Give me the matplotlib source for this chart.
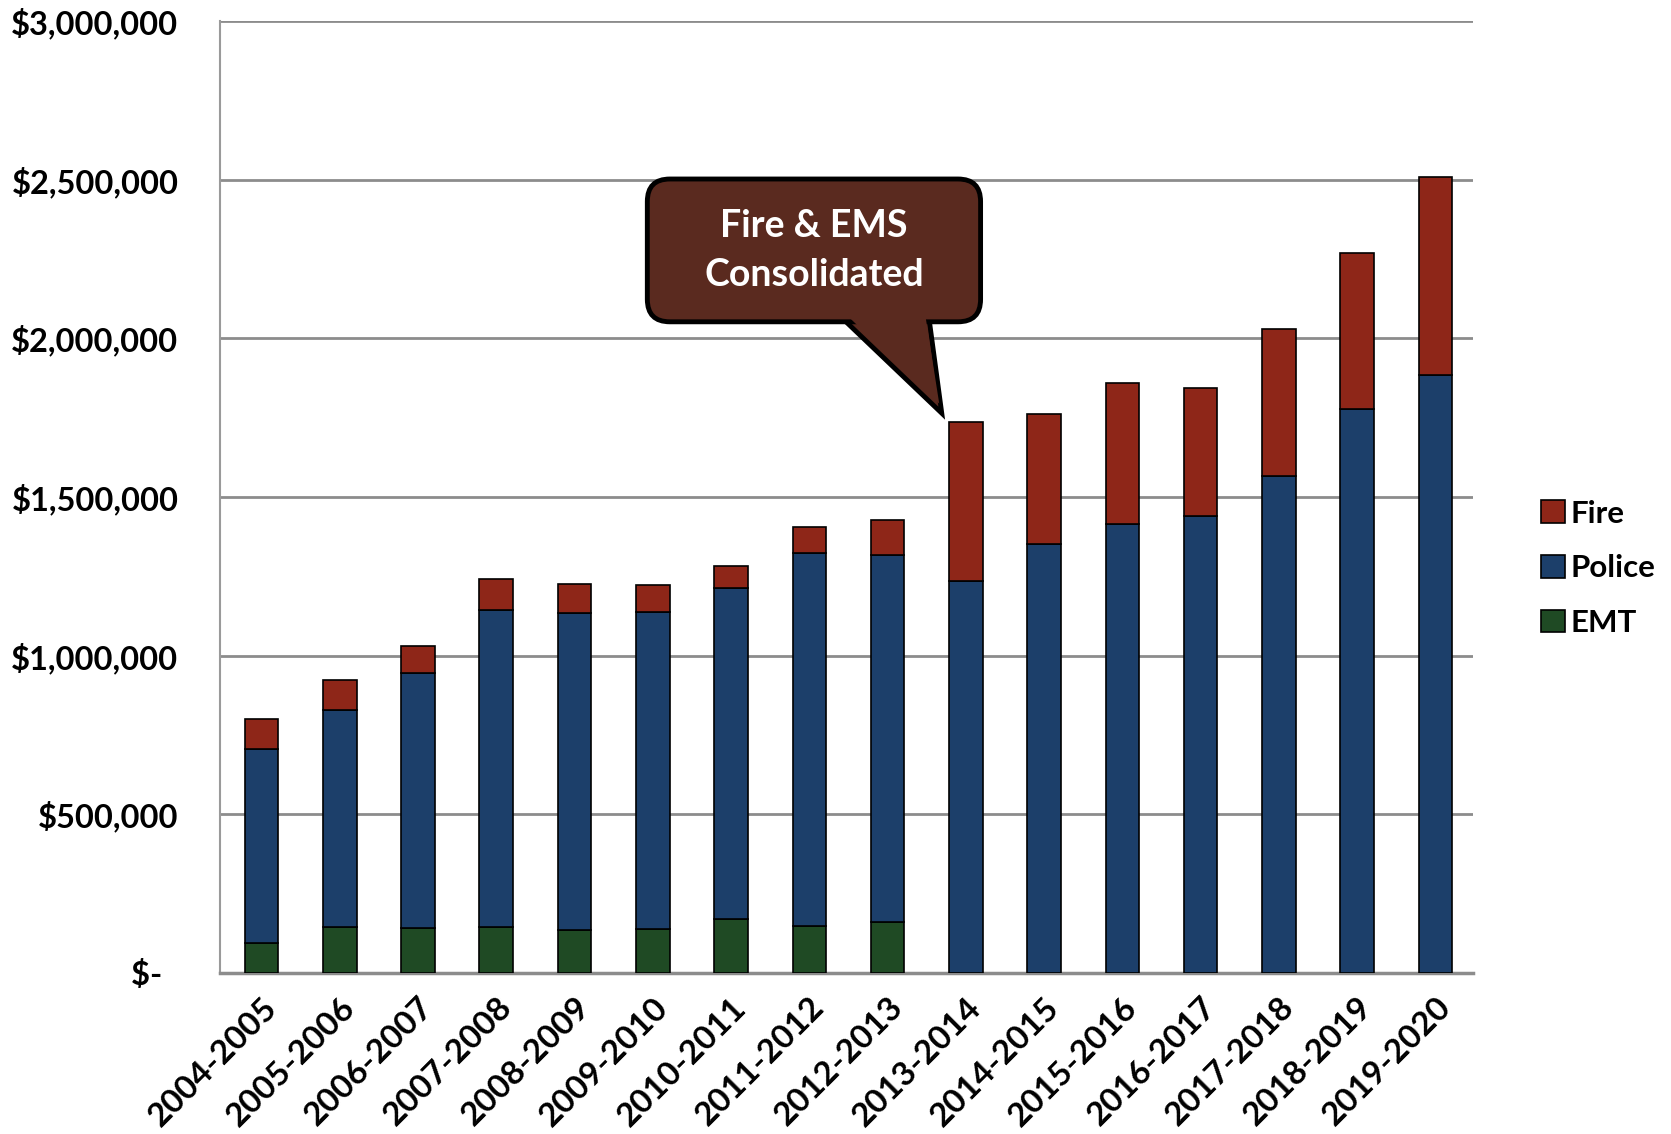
import numpy as np
import matplotlib.pyplot as plt
from matplotlib.patches import FancyBboxPatch, Polygon
from matplotlib.ticker import FuncFormatter

plt.rcParams['font.family'] = ['Lato', 'DejaVu Sans']
plt.rcParams['font.weight'] = 'bold'

years = ['2004-2005', '2005-2006', '2006-2007', '2007-2008', '2008-2009',
         '2009-2010', '2010-2011', '2011-2012', '2012-2013', '2013-2014',
         '2014-2015', '2015-2016', '2016-2017', '2017-2018', '2018-2019',
         '2019-2020']
emt = [94000, 144000, 141000, 144000, 134000, 138000, 171000, 148000, 161000,
       0, 0, 0, 0, 0, 0, 0]
police = [611000, 686000, 803000, 1001000, 1001000, 1001000, 1042000, 1175000,
          1156000, 1236000, 1352000, 1414000, 1440000, 1565000, 1777000, 1884000]
fire = [95000, 94000, 87000, 95000, 91000, 84000, 70000, 81000, 111000,
        500000, 410000, 444000, 403000, 465000, 493000, 624000]

c_fire = '#8e2618'
c_police = '#1c3f6a'
c_emt = '#1f4a24'

fig = plt.figure(figsize=(16.71, 11.34), dpi=100)
ax = fig.add_axes([0.1317, 0.142, 0.7498, 0.8395])

x = np.arange(len(years))
emt = np.array(emt); police = np.array(police); fire = np.array(fire)
w = 0.43
ax.bar(x, emt, w, color=c_emt, edgecolor='black', lw=1.2, label='EMT', zorder=3)
ax.bar(x, police, w, bottom=emt, color=c_police, edgecolor='black', lw=1.2,
       label='Police', zorder=3)
ax.bar(x, fire, w, bottom=emt + police, color=c_fire, edgecolor='black', lw=1.2,
       label='Fire', zorder=3)

ax.set_xlim(-0.53, 15.48)
ax.set_ylim(0, 3000000)
ax.set_yticks(np.arange(0, 3000001, 500000))

def money(v, pos):
    if v == 0:
        return '$-  '
    return '${:,.0f}'.format(v)
ax.yaxis.set_major_formatter(FuncFormatter(money))
ax.tick_params(axis='y', length=0, pad=30, labelsize=23.5)
ax.set_xticks(x)
ax.set_xticklabels(years, rotation=45, ha='right', rotation_mode='anchor',
                   fontsize=24)
ax.tick_params(axis='x', length=0, pad=14)

ax.grid(axis='y', color='#8c8c8c', lw=2, zorder=0)
for s in ['top', 'right']:
    ax.spines[s].set_visible(False)
ax.spines['left'].set_color('#9a9a9a')
ax.spines['left'].set_linewidth(1.5)
ax.spines['bottom'].set_color('#8c8c8c')
ax.spines['bottom'].set_linewidth(2.5)

# legend in Fire / Police / EMT order
h, l = ax.get_legend_handles_labels()
ax.legend(h[::-1], l[::-1], loc='center left', bbox_to_anchor=(1.042, 0.425),
          frameon=False, fontsize=22.5, handlelength=0.75, handleheight=0.75,
          handletextpad=0.2, labelspacing=0.85, borderpad=0)

# speech bubble callout
bub = '#5a2a1f'
aspect = (0.7498 * 16.71) / (0.8395 * 11.34)
box = FancyBboxPatch((0.341, 0.684), 0.266, 0.150,
                     boxstyle='round,pad=0,rounding_size=0.018',
                     mutation_aspect=aspect, transform=ax.transAxes,
                     facecolor=bub, edgecolor='black', lw=3.5, zorder=5,
                     clip_on=False)
ax.add_patch(box)
tip = (0.576, 0.588)
tail = Polygon([(0.498, 0.686), tip, (0.566, 0.686)], closed=True,
               transform=ax.transAxes, facecolor=bub, edgecolor='black',
               lw=3.5, zorder=4, joinstyle='miter', clip_on=False)
ax.add_patch(tail)
cover = Polygon([(0.501, 0.690), (0.574, 0.598), (0.563, 0.690)], closed=True,
                transform=ax.transAxes, facecolor=bub, edgecolor='none',
                zorder=6, clip_on=False)
ax.add_patch(cover)
ax.text(0.474, 0.759, 'Fire & EMS\nConsolidated', transform=ax.transAxes,
        ha='center', va='center', color='white', fontsize=27,
        fontweight='bold', linespacing=1.55, zorder=7)

fig.savefig('out.png', dpi=100)
